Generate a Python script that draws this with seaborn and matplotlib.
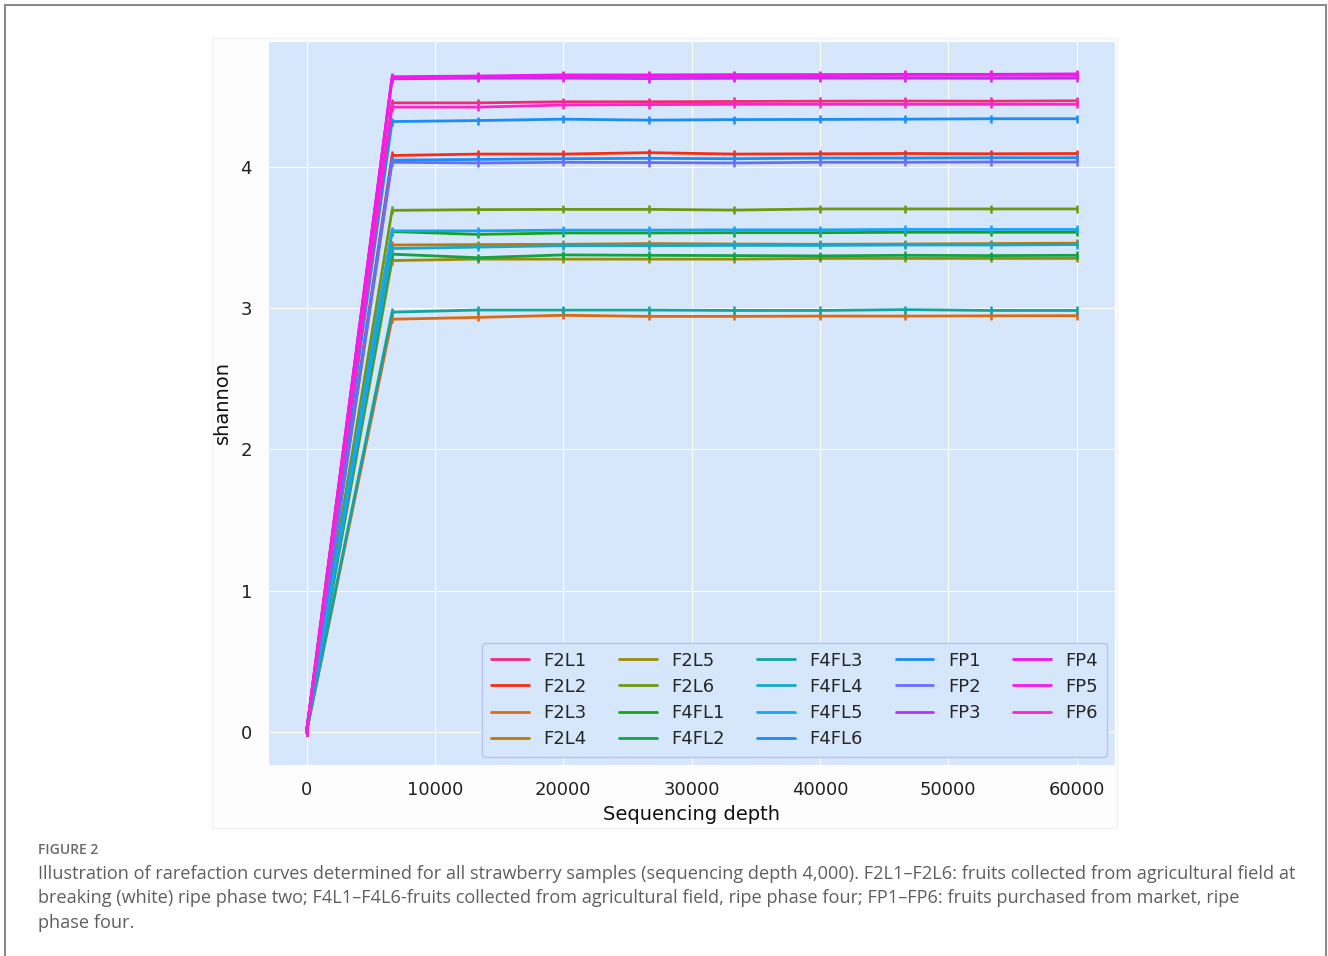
import pandas as pd
import matplotlib.pyplot as plt
import seaborn as sns
from matplotlib.patches import Rectangle

# sequencing depth steps
depth = [0, 6667, 13333, 20000, 26667, 33333, 40000, 46667, 53333, 60000]

samples = ['F2L1', 'F2L2', 'F2L3', 'F2L4', 'F2L5', 'F2L6',
           'F4FL1', 'F4FL2', 'F4FL3', 'F4FL4', 'F4FL5', 'F4FL6',
           'FP1', 'FP2', 'FP3', 'FP4', 'FP5', 'FP6']

# shannon values per sample
F2L1 = [0, 4.450, 4.450, 4.458, 4.458, 4.460, 4.462, 4.463, 4.462, 4.465]
F2L2 = [0, 4.078, 4.088, 4.088, 4.098, 4.088, 4.090, 4.092, 4.090, 4.092]
F2L3 = [0, 2.920, 2.933, 2.948, 2.940, 2.940, 2.942, 2.942, 2.944, 2.945]
F2L4 = [0, 3.445, 3.448, 3.450, 3.455, 3.452, 3.450, 3.452, 3.455, 3.458]
F2L5 = [0, 3.335, 3.345, 3.345, 3.345, 3.345, 3.350, 3.350, 3.350, 3.350]
F2L6 = [0, 3.690, 3.695, 3.697, 3.697, 3.692, 3.700, 3.700, 3.700, 3.700]
F4FL1 = [0, 3.540, 3.520, 3.530, 3.530, 3.532, 3.532, 3.535, 3.535, 3.535]
F4FL2 = [0, 3.380, 3.355, 3.375, 3.372, 3.370, 3.368, 3.372, 3.370, 3.372]
F4FL3 = [0, 2.970, 2.985, 2.985, 2.985, 2.982, 2.982, 2.988, 2.982, 2.982]
F4FL4 = [0, 3.420, 3.430, 3.440, 3.440, 3.442, 3.442, 3.445, 3.445, 3.448]
F4FL5 = [0, 3.545, 3.545, 3.550, 3.550, 3.552, 3.552, 3.555, 3.555, 3.555]
F4FL6 = [0, 4.045, 4.050, 4.055, 4.058, 4.055, 4.060, 4.060, 4.062, 4.062]
FP1 = [0, 4.318, 4.325, 4.335, 4.328, 4.332, 4.333, 4.335, 4.338, 4.338]
FP2 = [0, 4.030, 4.025, 4.030, 4.028, 4.025, 4.030, 4.030, 4.032, 4.032]
FP3 = [0, 4.620, 4.625, 4.625, 4.622, 4.624, 4.625, 4.625, 4.624, 4.625]
FP4 = [0, 4.635, 4.640, 4.648, 4.648, 4.650, 4.650, 4.652, 4.652, 4.655]
FP5 = [0, 4.625, 4.635, 4.640, 4.642, 4.642, 4.643, 4.645, 4.645, 4.645]
FP6 = [0, 4.420, 4.420, 4.435, 4.438, 4.440, 4.440, 4.440, 4.440, 4.440]

values = [F2L1, F2L2, F2L3, F2L4, F2L5, F2L6, F4FL1, F4FL2, F4FL3,
          F4FL4, F4FL5, F4FL6, FP1, FP2, FP3, FP4, FP5, FP6]

colors = ['#f5287c', '#fb2a14', '#dc6a12', '#bf7a06', '#9a8c06', '#6f980e',
          '#14a414', '#10a444', '#12a4a0', '#14a8d0', '#18a4f4', '#1a8cf8',
          '#1c8cf8', '#6c6cf8', '#b034f8', '#f014f0', '#f818e8', '#f824cc']

rows = []
for name, vals in zip(samples, values):
    for d, v in zip(depth, vals):
        rows.append({'depth': d, 'shannon': v, 'sample': name})
df = pd.DataFrame(rows)

sns.set_style("darkgrid", {"axes.facecolor": "#d6e6fb", "grid.color": "white"})
plt.rcParams['font.family'] = ['DejaVu Sans']

fig = plt.figure(figsize=(13.28, 9.56), dpi=100)

# page frame and image box (behind the axes)
fig.patches.append(Rectangle((5 / 1328, -0.05), 1321 / 1328, 1 - 5 / 956 + 0.05,
                             transform=fig.transFigure, fill=False,
                             edgecolor='#8a8a8a', linewidth=1.5, zorder=-10))
fig.patches.append(Rectangle((212 / 1328, 1 - 828 / 956), 905 / 1328, 790 / 956,
                             transform=fig.transFigure, facecolor='#fdfdfd',
                             edgecolor='#f2f2f2', linewidth=1, zorder=-10))

ax = fig.add_axes([268 / 1328, 1 - 765 / 956, 847 / 1328, 724 / 956])
sns.lineplot(data=df, x='depth', y='shannon', hue='sample', hue_order=samples,
             palette=dict(zip(samples, colors)), marker='|', markersize=6,
             markeredgewidth=1.8, linewidth=2, ax=ax)
# tick markers in the line colour
for line in ax.lines:
    line.set_markeredgecolor(line.get_color())

ax.set_xticks([0, 10000, 20000, 30000, 40000, 50000, 60000])
ax.set_yticks([0, 1, 2, 3, 4])
ax.tick_params(labelsize=13, colors='#222222', pad=8)
ax.set_xlabel('Sequencing depth', fontsize=14, color='#111111', labelpad=4)
ax.set_ylabel('shannon', fontsize=14, color='#111111', labelpad=6)

leg = ax.legend(ncol=5, loc='lower right', fontsize=13, frameon=True,
                facecolor='#d6e6fb', edgecolor='#b8c4f0', framealpha=1,
                handlelength=2.1, handletextpad=0.8, columnspacing=1.8,
                labelspacing=0.45, borderpad=0.5, borderaxespad=0,
                bbox_to_anchor=(0.9906, 0.011))
for line in leg.get_lines():
    line.set_linewidth(2)
    line.set_marker('')

fig.text(38 / 1328, 1 - 850 / 956, 'FIGURE 2', fontsize=10, color='#6a6a6a',
         family='Open Sans', fontweight='semibold', va='center')
caption = ("Illustration of rarefaction curves determined for all strawberry samples (sequencing depth 4,000). "
           "F2L1\u2013F2L6: fruits collected from agricultural field at\n"
           "breaking (white) ripe phase two; F4L1\u2013F4L6-fruits collected from agricultural field, "
           "ripe phase four; FP1\u2013FP6: fruits purchased from market, ripe\n"
           "phase four.")
fig.text(38 / 1328, 1 - 865 / 956, caption, fontsize=13.1, color='#5e5e5e',
         family='Open Sans', va='top', linespacing=1.45)

fig.savefig('out.png', dpi=100)
